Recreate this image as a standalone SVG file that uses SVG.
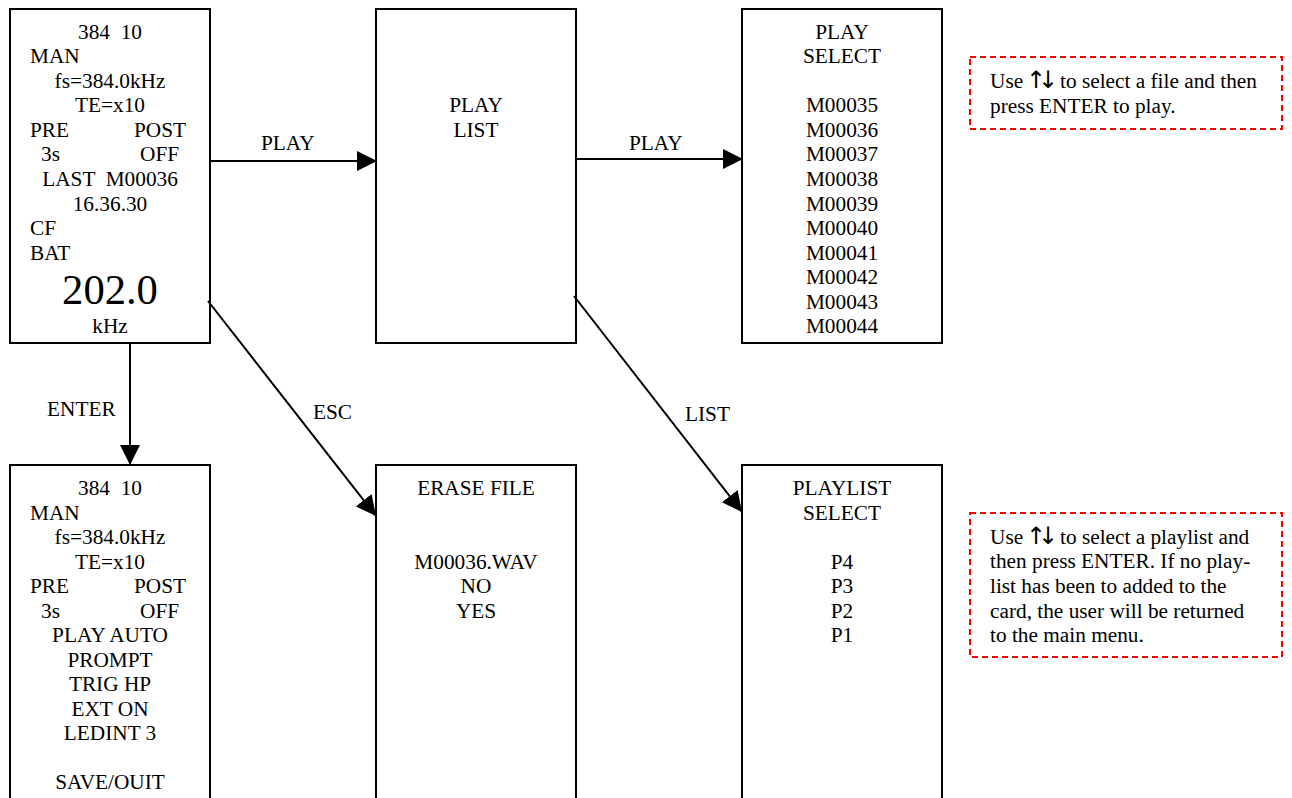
<svg xmlns="http://www.w3.org/2000/svg" width="1292" height="798" viewBox="0 0 1292 798">
<style>
text{font-family:"Liberation Serif","Times New Roman",serif;font-size:21.3px;fill:#000;white-space:pre}
.c{text-anchor:middle}
.big{font-size:42.6px}
.ar{font-family:"DejaVu Sans",sans-serif;font-size:24px;letter-spacing:-8px}
.box{fill:#fff;stroke:#000;stroke-width:2}
.dash{fill:#fff;stroke:#f00;stroke-width:2;stroke-dasharray:6 4}
.conn{stroke:#000;stroke-width:2;fill:none}
.head{fill:#000}
</style>
<defs>
<marker id="arr" markerUnits="userSpaceOnUse" markerWidth="21" markerHeight="21" refX="20" refY="10" orient="auto"><path class="head" d="M0 0L20 10L0 20Z"/></marker>
</defs>
<g id="n1">
<rect class="box" x="10" y="9" width="200" height="334"/>
<text class="c" x="110" y="39">384  10</text>
<text x="30" y="63">MAN</text>
<text class="c" x="110" y="88">fs=384.0kHz</text>
<text class="c" x="110" y="112">TE=x10</text>
<text x="30" y="137">PRE</text>
<text x="134" y="137">POST</text>
<text x="41" y="161">3s</text>
<text x="140" y="161">OFF</text>
<text class="c" x="110" y="186">LAST  M00036</text>
<text class="c" x="110" y="211">16.36.30</text>
<text x="30" y="235">CF</text>
<text x="30" y="260">BAT</text>
<text class="c big" x="110" y="304">202.0</text>
<text class="c" x="110" y="333">kHz</text>
</g>
<g id="n2">
<rect class="box" x="376" y="9" width="200" height="334"/>
<text class="c" x="476" y="112">PLAY</text>
<text class="c" x="476" y="137">LIST</text>
</g>
<g id="n3">
<rect class="box" x="742" y="9" width="200" height="334"/>
<text class="c" x="842" y="39">PLAY</text>
<text class="c" x="842" y="63">SELECT</text>
<text class="c" x="842" y="112">M00035</text>
<text class="c" x="842" y="137">M00036</text>
<text class="c" x="842" y="161">M00037</text>
<text class="c" x="842" y="186">M00038</text>
<text class="c" x="842" y="211">M00039</text>
<text class="c" x="842" y="235">M00040</text>
<text class="c" x="842" y="260">M00041</text>
<text class="c" x="842" y="284">M00042</text>
<text class="c" x="842" y="309">M00043</text>
<text class="c" x="842" y="333">M00044</text>
</g>
<g id="n4">
<rect class="box" x="10" y="465" width="200" height="340"/>
<text class="c" x="110" y="495">384  10</text>
<text x="30" y="520">MAN</text>
<text class="c" x="110" y="544">fs=384.0kHz</text>
<text class="c" x="110" y="569">TE=x10</text>
<text x="30" y="593">PRE</text>
<text x="134" y="593">POST</text>
<text x="41" y="618">3s</text>
<text x="140" y="618">OFF</text>
<text class="c" x="110" y="642">PLAY AUTO</text>
<text class="c" x="110" y="667">PROMPT</text>
<text class="c" x="110" y="691">TRIG HP</text>
<text class="c" x="110" y="716">EXT ON</text>
<text class="c" x="110" y="740">LEDINT 3</text>
<text class="c" x="110" y="789">SAVE/OUIT</text>
</g>
<g id="n5">
<rect class="box" x="376" y="465" width="200" height="340"/>
<text class="c" x="476" y="495">ERASE FILE</text>
<text class="c" x="476" y="569">M00036.WAV</text>
<text class="c" x="476" y="593">NO</text>
<text class="c" x="476" y="618">YES</text>
</g>
<g id="n6">
<rect class="box" x="742" y="465" width="200" height="340"/>
<text class="c" x="842" y="495">PLAYLIST</text>
<text class="c" x="842" y="520">SELECT</text>
<text class="c" x="842" y="569">P4</text>
<text class="c" x="842" y="593">P3</text>
<text class="c" x="842" y="618">P2</text>
<text class="c" x="842" y="642">P1</text>
</g>
<g id="note1">
<rect class="dash" x="970" y="57" width="312" height="72"/>
<text x="990" y="88">Use <tspan class="ar" x="1026" y="88">↑↓</tspan><tspan x="1060" y="88">to select a file and then</tspan></text>
<text x="990" y="113">press ENTER to play.</text>
</g>
<g id="note2">
<rect class="dash" x="970" y="513" width="312" height="144"/>
<text x="990" y="544">Use <tspan class="ar" x="1026" y="544">↑↓</tspan><tspan x="1060" y="544">to select a playlist and</tspan></text>
<text x="990" y="568">then press ENTER. If no play-</text>
<text x="990" y="593">list has been to added to the</text>
<text x="990" y="618">card, the user will be returned</text>
<text x="990" y="642">to the main menu.</text>
</g>
<g id="connectors">
<line class="conn" x1="210" y1="161" x2="377" y2="161" marker-end="url(#arr)"/>
<line class="conn" x1="576" y1="159" x2="743" y2="159" marker-end="url(#arr)"/>
<line class="conn" x1="130" y1="343" x2="130" y2="465" marker-end="url(#arr)"/>
<line class="conn" x1="208" y1="301" x2="376" y2="516" marker-end="url(#arr)"/>
<line class="conn" x1="574" y1="296" x2="742" y2="512" marker-end="url(#arr)"/>
<text x="261" y="150">PLAY</text>
<text x="629" y="150">PLAY</text>
<text x="47" y="416">ENTER</text>
<text x="313" y="419">ESC</text>
<text x="685" y="421">LIST</text>
</g>
</svg>
